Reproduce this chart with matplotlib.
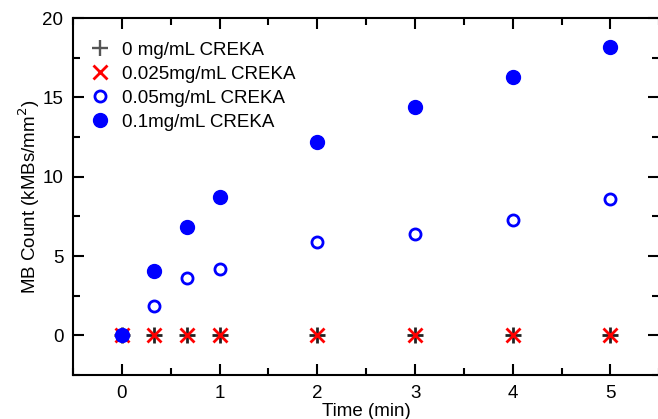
import matplotlib
matplotlib.use("Agg")
import matplotlib.pyplot as plt
from matplotlib.ticker import MultipleLocator

plt.rcParams['font.family'] = ['Liberation Sans', 'DejaVu Sans']
plt.rcParams['font.size'] = 13.5

time_min = [0, 1/3, 2/3, 1, 2, 3, 4, 5]
count_0 = [0, 0, 0, 0, 0, 0, 0, 0]
count_0025 = [0, 0, 0, 0, 0, 0, 0, 0]
count_005 = [0, 1.83, 3.6, 4.2, 5.87, 6.4, 7.3, 8.6]
count_01 = [0, 4.04, 6.8, 8.7, 12.2, 14.4, 16.3, 18.2]

fig = plt.figure(figsize=(6.58, 4.19), dpi=100)
ax = fig.add_axes([0.111, 0.105, 0.891, 0.852])

ax.plot(time_min, count_0, ls='none', marker='+', ms=12, mew=2, color='#222222',
        label='0 mg/mL CREKA')
ax.plot(time_min, count_0025, ls='none', marker='x', ms=10, mew=2, color='#ff0000',
        label='0.025mg/mL CREKA')
ax.plot(time_min, count_005, ls='none', marker='o', ms=8, mew=2, mfc='white',
        mec='#0000ff', label='0.05mg/mL CREKA')
ax.plot(time_min, count_01, ls='none', marker='o', ms=10, color='#0000ff',
        label='0.1mg/mL CREKA')

ax.set_xlim(-0.5, 5.5)
ax.set_ylim(-2.5, 20)
ax.xaxis.set_major_locator(MultipleLocator(1))
ax.xaxis.set_minor_locator(MultipleLocator(0.5))
ax.yaxis.set_major_locator(MultipleLocator(5))
ax.yaxis.set_minor_locator(MultipleLocator(2.5))
ax.tick_params(which='both', direction='in', top=True, right=True, width=1.5)
ax.tick_params(which='major', length=8, pad=7)
ax.tick_params(which='minor', length=5)
for s in ax.spines.values():
    s.set_linewidth(1.5)

ax.set_xlabel('Time (min)', labelpad=1)
ax.set_ylabel('MB Count (kMBs/mm$^2$)', labelpad=0)

leg = ax.legend(loc='upper left', bbox_to_anchor=(0.011, 0.955), borderaxespad=0,
                frameon=False, handletextpad=0.45, labelspacing=0.37,
                handlelength=1.4)
leg.legend_handles[0].set_color('#555555')
leg.legend_handles[0].set_markeredgewidth(1.7)

fig.savefig('out.png', dpi=100)
